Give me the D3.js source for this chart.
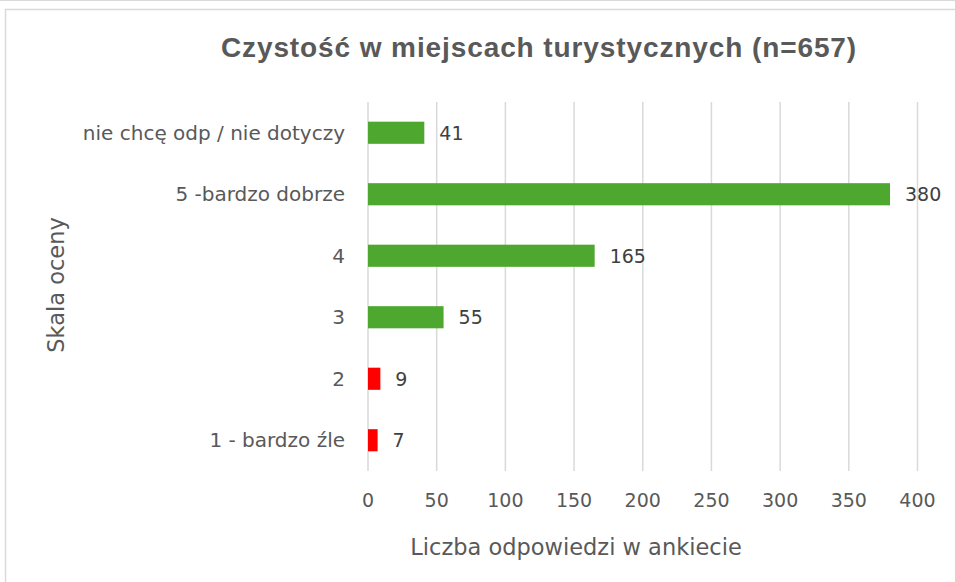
<!DOCTYPE html>
<html>
<head>
<meta charset="utf-8">
<script src="https://cdn.jsdelivr.net/npm/d3@7"></script>
<style>
  body { margin: 0; background: #fff; }
  svg text { font-family: "DejaVu Sans", sans-serif; }
  svg text.title { font-family: "Liberation Sans", Arial, sans-serif; }
</style>
</head>
<body>
<svg id="chart" width="955" height="582"></svg>
<script>
// data
var categories = ["nie chcę odp / nie dotyczy", "5 -bardzo dobrze", "4", "3", "2", "1 - bardzo źle"];
var values = [41, 380, 165, 55, 9, 7];
var barColors = ["#4ea72e", "#4ea72e", "#4ea72e", "#4ea72e", "#ff0000", "#ff0000"];
var xTicks = [0, 50, 100, 150, 200, 250, 300, 350, 400];

var title = "Czystość w miejscach turystycznych (n=657)";
var xTitle = "Liczba odpowiedzi w ankiecie";
var yTitle = "Skala oceny";

var svg = d3.select("#chart");
var plot = { left: 368, right: 917.5, top: 102, bottom: 471 };

// chart frame
svg.append("line")
  .attr("x1", 0).attr("x2", 955).attr("y1", 0.5).attr("y2", 0.5)
  .attr("stroke", "#d9d9d9");
svg.append("rect")
  .attr("x", 5.5).attr("y", 9.5).attr("width", 1000).attr("height", 1000)
  .attr("fill", "none").attr("stroke", "#d9d9d9").attr("stroke-width", 1.5);

var x = d3.scaleLinear().domain([0, 400]).range([plot.left, plot.right]);
var y = d3.scaleBand().domain(categories).range([plot.top, plot.bottom])
  .paddingInner(0.64).paddingOuter(0.32);

// gridlines
svg.append("g").selectAll("line")
  .data(xTicks)
  .enter().append("line")
  .attr("x1", function (d) { return x(d); })
  .attr("x2", function (d) { return x(d); })
  .attr("y1", plot.top)
  .attr("y2", plot.bottom)
  .attr("stroke", "#d9d9d9")
  .attr("stroke-width", 1.5);

// tick labels
svg.append("g").selectAll("text")
  .data(xTicks)
  .enter().append("text")
  .attr("x", function (d) { return x(d); })
  .attr("y", 507)
  .attr("text-anchor", "middle")
  .style("font-size", "19px")
  .style("fill", "#595959")
  .text(function (d) { return d; });

// bars
svg.append("g").selectAll("rect")
  .data(values)
  .enter().append("rect")
  .attr("x", x(0))
  .attr("y", function (d, i) { return y(categories[i]); })
  .attr("width", function (d) { return x(d) - x(0); })
  .attr("height", y.bandwidth())
  .attr("fill", function (d, i) { return barColors[i]; });

// value labels
svg.append("g").selectAll("text")
  .data(values)
  .enter().append("text")
  .attr("x", function (d) { return x(d) + 15; })
  .attr("y", function (d, i) { return y(categories[i]) + y.bandwidth() / 2; })
  .attr("dy", ".36em")
  .style("font-size", "19px")
  .style("fill", "#404040")
  .text(function (d) { return d; });

// category labels
svg.append("g").selectAll("text")
  .data(categories)
  .enter().append("text")
  .attr("x", 345)
  .attr("y", function (d) { return y(d) + y.bandwidth() / 2; })
  .attr("dy", ".36em")
  .attr("text-anchor", "end")
  .style("font-size", "20px")
  .style("fill", "#595959")
  .text(function (d) { return d; });

// titles
svg.append("text")
  .attr("class", "title")
  .attr("x", 539).attr("y", 57)
  .attr("text-anchor", "middle")
  .style("font-size", "28px")
  .style("font-weight", "bold")
  .style("letter-spacing", "0.9px")
  .style("fill", "#595959")
  .text(title);

svg.append("text")
  .attr("x", 576).attr("y", 555)
  .attr("text-anchor", "middle")
  .style("font-size", "22.5px")
  .style("fill", "#595959")
  .text(xTitle);

svg.append("text")
  .attr("transform", "translate(64 285) rotate(-90)")
  .attr("text-anchor", "middle")
  .style("font-size", "22.5px")
  .style("fill", "#595959")
  .text(yTitle);
</script>
</body>
</html>
